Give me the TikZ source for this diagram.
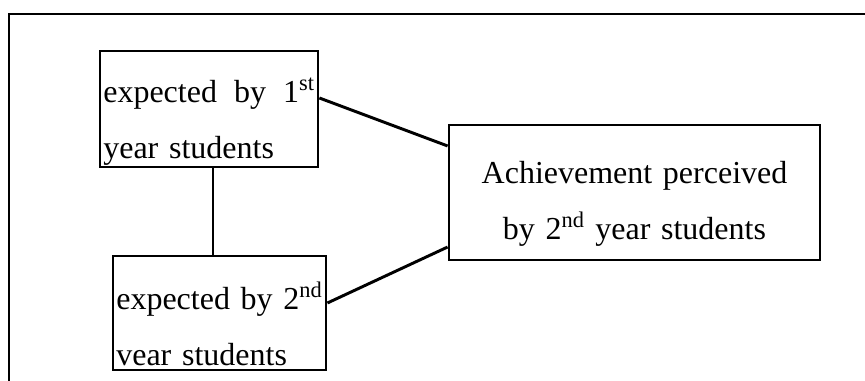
\documentclass[tikz,border=0pt]{standalone}
\usepackage{fontspec}
\setmainfont{Liberation Serif}
\usepackage{tikz}

\tikzset{
  box/.style={draw, line width=2.1pt, inner xsep=2.5pt, inner ysep=0pt,
    font=\fontsize{24}{42}\selectfont},
  link/.style={line width=2.2pt},
}

\begin{document}
\begin{tikzpicture}[x=0.75pt,y=-0.75pt]
  \useasboundingbox (0,0) rectangle (865,381);
  \draw[line width=1.6pt] (865,14) -- (9,14) -- (9,381);
  \node[box, text width=158.5pt, align=left] (exp1) at (209,109)
    {\rule{0pt}{39pt}expected\hfill by\hfill 1\textsuperscript{st}\\
     year students\rule[-6pt]{0pt}{6pt}};
  \node[box, text width=154.75pt, align=left] (exp2) at (219.5,313)
    {\rule{0pt}{40.5pt}expected by 2\textsuperscript{nd}\\
     vear students\rule[-3pt]{0pt}{3pt}};
  \node[box, text width=273.25pt, align=center] (ach) at (634.5,192.5)
    {\rule{0pt}{44.25pt}Achievement perceived\\
     by 2\textsuperscript{nd} year students\rule[-15pt]{0pt}{15pt}};
  \draw[link] ([xshift=3pt]exp1.south) -- ([xshift=3pt]exp1.south |- exp2.north);
  \draw[link] ([yshift=8.25pt]exp1.east) -- ([yshift=34.9pt]ach.west);
  \draw[link] ([yshift=7.5pt]exp2.east) -- ([yshift=-40.9pt]ach.west);
\end{tikzpicture}
\end{document}
